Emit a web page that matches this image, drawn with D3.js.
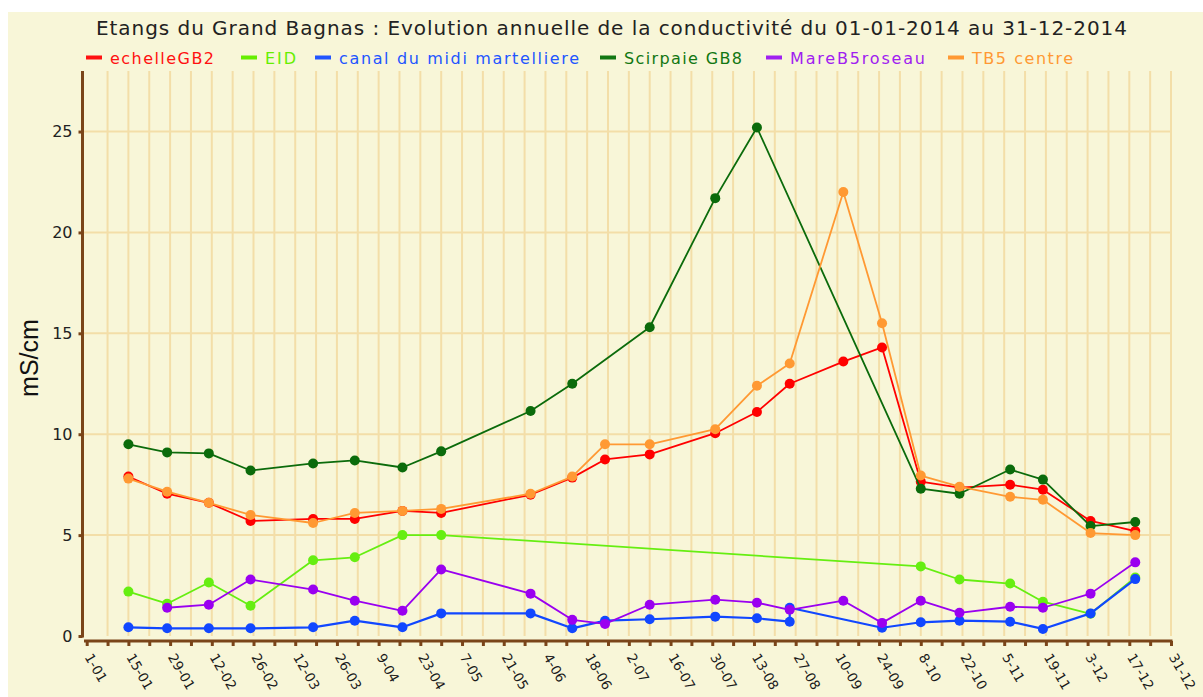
<!DOCTYPE html>
<html><head><meta charset="utf-8">
<script src="https://cdn.jsdelivr.net/npm/d3@7"></script>
<style>html,body{margin:0;padding:0;background:#fff;} svg{display:block}</style>
</head><body>
<svg id="chart" width="1203" height="697"></svg>
<script>
// ---------- data ----------
const title = "Etangs du Grand Bagnas : Evolution annuelle de la conductivité du 01-01-2014 au 31-12-2014";
const yLabel = "mS/cm";
const seriesNames = ["echelleGB2", "EID", "canal du midi martelliere", "Scirpaie GB8", "MareB5roseau", "TB5 centre"];
const seriesColors = ["#ff0000", "#66ee11", "#1147ff", "#0b6b0b", "#9a00f0", "#ff9933"];
const legendColors = ["#ff1111", "#66ee00", "#2255ff", "#127712", "#a020f0", "#ff9933"];
const yTicks = [0, 5, 10, 15, 20, 25];

const dates = ["15-01","28-01","11-02","25-02","18-03","01-04","17-04","30-04","30-05","13-06","24-06",
               "09-07","31-07","14-08","25-08","12-09","25-09","08-10","21-10","07-11","18-11","04-12","19-12"];
const echelleGB2   = [7.9, 7.05, 6.6, 5.7, 5.8, 5.8, 6.2, 6.1, 7.0, 7.85, 8.75, 9.0, 10.05, 11.1, 12.5, 13.6, 14.3, 7.65, 7.35, 7.5, 7.25, 5.7, 5.2];
const eid          = [2.2, 1.6, 2.65, 1.5, 3.75, 3.9, 5.0, 5.0, null, null, null, null, null, null, null, null, null, 3.45, 2.8, 2.6, 1.7, 1.1, 2.9];
const scirpaieGB8  = [9.5, 9.1, 9.05, 8.2, 8.55, 8.7, 8.35, 9.15, 11.15, 12.5, null, 15.3, 21.7, 25.2, null, null, null, 7.3, 7.05, 8.25, 7.75, 5.45, 5.65];
const mareB5roseau = [null, 1.4, 1.55, 2.8, 2.3, 1.75, 1.25, 3.3, 2.1, 0.8, 0.6, 1.55, 1.8, 1.65, 1.3, 1.75, 0.65, 1.75, 1.15, 1.45, 1.4, 2.1, 3.65];
const tb5Centre    = [7.8, 7.15, 6.6, 6.0, 5.6, 6.1, 6.2, 6.3, 7.05, 7.9, 9.5, 9.5, 10.25, 12.4, 13.5, 22.0, 15.5, 7.95, 7.4, 6.9, 6.75, 5.1, 5.0];
const canalDates   = ["15-01","28-01","11-02","25-02","18-03","01-04","17-04","30-04","30-05","13-06","24-06",
                      "09-07","31-07","14-08","25-08","25-08","25-09","08-10","21-10","07-11","18-11","04-12","19-12"];
const canalMidi    = [0.43, 0.38, 0.38, 0.38, 0.43, 0.76, 0.43, 1.12, 1.12, 0.38, 0.76, 0.83, 0.96, 0.88, 0.71, 1.4, 0.41, 0.68, 0.76, 0.71, 0.35, 1.12, 2.82];

// ---------- build ----------
const parse = s => { const [d, m] = s.split("-").map(Number); return new Date(Date.UTC(2014, m - 1, d)); };
const mk = (ds, vs) => ds.map((d, i) => ({ date: parse(d), v: vs[i] })).filter(p => p.v != null);
const series = [
  mk(dates, echelleGB2), mk(dates, eid), mk(canalDates, canalMidi),
  mk(dates, scirpaieGB8), mk(dates, mareB5roseau), mk(dates, tb5Centre)
];

const svg = d3.select("#chart");
const BG = "#f8f6d8", GRID = "#f3dea8", AXIS = "#7a4519";
const FONT = "DejaVu Sans, Verdana, sans-serif";

svg.append("rect").attr("x", 8).attr("y", 12).attr("width", 1195).attr("height", 685).attr("fill", BG);

const x = d3.scaleUtc().domain([new Date(Date.UTC(2014, 0, 1)), new Date(Date.UTC(2014, 11, 31))]).range([86.7, 1171]);
const y = d3.scaleLinear().domain([0, 28]).range([636, 71]);

const weekTicks = d3.range(0, 365, 7).map(i => new Date(Date.UTC(2014, 0, 1 + i)));
const fmt = d3.utcFormat("%-d-%m");

// grid
const g = svg.append("g");
g.selectAll("line.v").data(weekTicks.slice(1)).join("line")
  .attr("x1", d => x(d)).attr("x2", d => x(d)).attr("y1", 71).attr("y2", 636)
  .attr("stroke", GRID).attr("stroke-width", 2);
g.selectAll("line.h").data(yTicks.slice(1)).join("line")
  .attr("x1", 84).attr("x2", 1170).attr("y1", d => y(d)).attr("y2", d => y(d))
  .attr("stroke", GRID).attr("stroke-width", 2);

// y axis
const yAxis = svg.append("g").attr("transform", "translate(82.5,0)")
  .call(d3.axisLeft(y).tickValues(yTicks).tickSize(4).tickPadding(6));
yAxis.select(".domain").remove();
yAxis.selectAll(".tick line").attr("stroke", AXIS).attr("stroke-width", 3);
yAxis.selectAll(".tick text").attr("font-family", FONT).attr("font-size", 16).attr("fill", "#222");
svg.append("line").attr("x1", 82.5).attr("x2", 82.5).attr("y1", 71).attr("y2", 637.5)
  .attr("stroke", AXIS).attr("stroke-width", 3);

// x axis
const xAxis = svg.append("g").attr("transform", "translate(0,641)")
  .call(d3.axisBottom(x).tickValues(weekTicks).tickSize(5).tickFormat((d, i) => i % 2 === 0 ? fmt(d) : ""));
xAxis.select(".domain").remove();
xAxis.selectAll(".tick line").attr("stroke", AXIS).attr("stroke-width", 3);
xAxis.selectAll(".tick text")
  .attr("font-family", FONT).attr("font-size", 13.5).attr("fill", "#1a1a1a")
  .attr("text-anchor", "start").attr("dy", 0).attr("y", 0)
  .attr("transform", "translate(-3,16) rotate(60)");
svg.append("line").attr("x1", 84).attr("x2", 1172.5).attr("y1", 641).attr("y2", 641)
  .attr("stroke", AXIS).attr("stroke-width", 3);

// y label
svg.append("text").attr("transform", "translate(38,358) rotate(-90)")
  .attr("text-anchor", "middle").attr("font-family", "Liberation Sans, Arial, sans-serif")
  .attr("font-size", 25).attr("fill", "#111").text(yLabel);

// title
svg.append("text").attr("x", 96).attr("y", 35)
  .attr("font-family", FONT).attr("font-size", 20).attr("fill", "#222")
  .attr("textLength", 1031).attr("lengthAdjust", "spacing").text(title);

// legend
const legX = [86, 241, 315, 600, 766, 948];
const legTextW = [104, 31, 240, 118, 135, 101];
seriesNames.forEach((n, i) => {
  svg.append("line").attr("x1", legX[i]).attr("x2", legX[i] + 16).attr("y1", 57.5).attr("y2", 57.5)
    .attr("stroke", legendColors[i]).attr("stroke-width", 4);
  svg.append("text").attr("x", legX[i] + 24).attr("y", 64)
    .attr("font-family", FONT).attr("font-size", 16).attr("fill", legendColors[i])
    .attr("textLength", legTextW[i]).attr("lengthAdjust", "spacing").text(n);
});

// series
const line = d3.line().x(d => x(d.date)).y(d => y(d.v));
series.forEach((s, i) => {
  const gs = svg.append("g");
  gs.append("path").datum(s).attr("d", line).attr("fill", "none")
    .attr("stroke", seriesColors[i]).attr("stroke-width", i === 2 ? 2.2 : 1.8).attr("stroke-linejoin", "round");
  gs.selectAll("circle").data(s).join("circle")
    .attr("cx", d => x(d.date)).attr("cy", d => y(d.v)).attr("r", 5).attr("fill", seriesColors[i]);
});
</script>
</body></html>
